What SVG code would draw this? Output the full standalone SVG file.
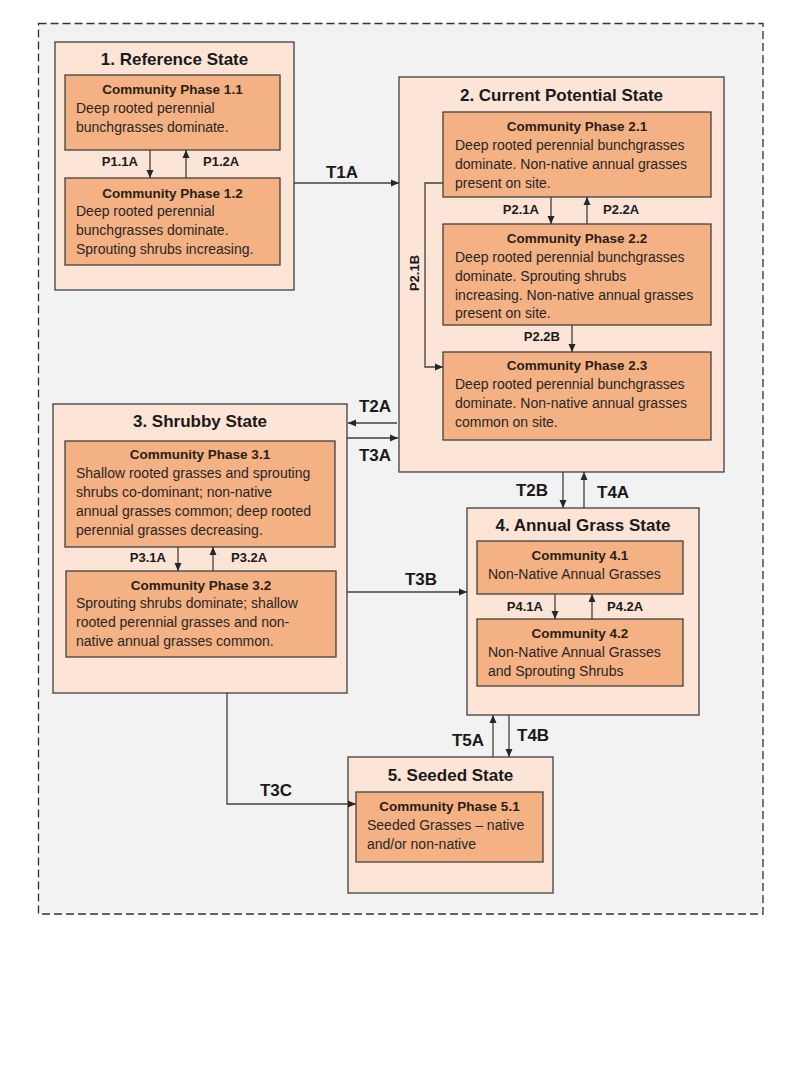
<svg xmlns="http://www.w3.org/2000/svg" width="800" height="1067" viewBox="0 0 800 1067">
<defs>
<marker id="ah" viewBox="0 0 8 8" refX="8" refY="4" markerWidth="8" markerHeight="8" markerUnits="userSpaceOnUse" orient="auto">
<path d="M0,0.5 L8,4 L0,7.5 Z" fill="#262626"/>
</marker>
</defs>
<style>
.state{fill:#fce4d6;stroke:#404040;stroke-width:1.3}
.phase{fill:#f4b183;stroke:#404040;stroke-width:1.3}
.st{font-family:"Liberation Sans",Arial,sans-serif;font-weight:bold;font-size:17px;fill:#1a1a1a;text-anchor:middle}
.pt{font-family:"Liberation Sans",Arial,sans-serif;font-weight:bold;font-size:13.5px;fill:#2a1e16;text-anchor:middle}
.bt{font-family:"Liberation Sans",Arial,sans-serif;font-size:14px;fill:#262626}
.lb{font-family:"Liberation Sans",Arial,sans-serif;font-weight:bold;font-size:13px;fill:#1a1a1a}
.tl{font-family:"Liberation Sans",Arial,sans-serif;font-weight:bold;font-size:17px;fill:#1a1a1a}
.cn{fill:none;stroke:#404040;stroke-width:1.3;marker-end:url(#ah)}
</style>
<rect x="0" y="0" width="800" height="1067" fill="#ffffff"/>
<rect x="38.5" y="23.5" width="724.5" height="890.5" fill="#f2f2f2" stroke="#333333" stroke-width="1.3" stroke-dasharray="8,4"/>

<g id="state1">
<rect class="state" x="55" y="42" width="239" height="248"/>
<text class="st" x="174.5" y="65">1. Reference State</text>
</g>
<g id="phase1-1">
<rect class="phase" x="65" y="75" width="215" height="75"/>
<text class="pt" x="172.5" y="94">Community Phase 1.1</text>
<text class="bt" x="76" y="113">Deep rooted perennial</text>
<text class="bt" x="76" y="132">bunchgrasses dominate.</text>
</g>
<g id="phase1-2">
<rect class="phase" x="65" y="178" width="215" height="87"/>
<text class="pt" x="172.5" y="198">Community Phase 1.2</text>
<text class="bt" x="76" y="216">Deep rooted perennial</text>
<text class="bt" x="76" y="235">bunchgrasses dominate.</text>
<text class="bt" x="76" y="254">Sprouting shrubs increasing.</text>
</g>

<g id="state2">
<rect class="state" x="399" y="77" width="325" height="395"/>
<text class="st" x="561.5" y="101">2. Current Potential State</text>
</g>
<g id="phase2-1">
<rect class="phase" x="443" y="112" width="268" height="85"/>
<text class="pt" x="577" y="131">Community Phase 2.1</text>
<text class="bt" x="455" y="150">Deep rooted perennial bunchgrasses</text>
<text class="bt" x="455" y="169">dominate. Non-native annual grasses</text>
<text class="bt" x="455" y="188">present on site.</text>
</g>
<g id="phase2-2">
<rect class="phase" x="443" y="224" width="268" height="101"/>
<text class="pt" x="577" y="243">Community Phase 2.2</text>
<text class="bt" x="455" y="262">Deep rooted perennial bunchgrasses</text>
<text class="bt" x="455" y="281">dominate. Sprouting shrubs</text>
<text class="bt" x="455" y="300">increasing. Non-native annual grasses</text>
<text class="bt" x="455" y="318">present on site.</text>
</g>
<g id="phase2-3">
<rect class="phase" x="443" y="352" width="268" height="88"/>
<text class="pt" x="577" y="370">Community Phase 2.3</text>
<text class="bt" x="455" y="389">Deep rooted perennial bunchgrasses</text>
<text class="bt" x="455" y="408">dominate. Non-native annual grasses</text>
<text class="bt" x="455" y="427">common on site.</text>
</g>

<g id="state3">
<rect class="state" x="53" y="404" width="294" height="289"/>
<text class="st" x="200" y="427">3. Shrubby State</text>
</g>
<g id="phase3-1">
<rect class="phase" x="65" y="441" width="270" height="106"/>
<text class="pt" x="200" y="459">Community Phase 3.1</text>
<text class="bt" x="76" y="478">Shallow rooted grasses and sprouting</text>
<text class="bt" x="76" y="497">shrubs co-dominant; non-native</text>
<text class="bt" x="76" y="516">annual grasses common; deep rooted</text>
<text class="bt" x="76" y="535">perennial grasses decreasing.</text>
</g>
<g id="phase3-2">
<rect class="phase" x="66" y="571" width="270" height="86"/>
<text class="pt" x="201" y="590">Community Phase 3.2</text>
<text class="bt" x="76" y="608">Sprouting shrubs dominate; shallow</text>
<text class="bt" x="76" y="627">rooted perennial grasses and non-</text>
<text class="bt" x="76" y="646">native annual grasses common.</text>
</g>

<g id="state4">
<rect class="state" x="467" y="508" width="232" height="207"/>
<text class="st" x="583" y="531">4. Annual Grass State</text>
</g>
<g id="community4-1">
<rect class="phase" x="477" y="541" width="206" height="53"/>
<text class="pt" x="580" y="560">Community 4.1</text>
<text class="bt" x="488" y="579">Non-Native Annual Grasses</text>
</g>
<g id="community4-2">
<rect class="phase" x="477" y="619" width="206" height="67"/>
<text class="pt" x="580" y="638">Community 4.2</text>
<text class="bt" x="488" y="657">Non-Native Annual Grasses</text>
<text class="bt" x="488" y="676">and Sprouting Shrubs</text>
</g>

<g id="state5">
<rect class="state" x="348" y="757" width="205" height="136"/>
<text class="st" x="450.5" y="781">5. Seeded State</text>
</g>
<g id="phase5-1">
<rect class="phase" x="356" y="792" width="187" height="70"/>
<text class="pt" x="449.5" y="811">Community Phase 5.1</text>
<text class="bt" x="367" y="830">Seeded Grasses – native</text>
<text class="bt" x="367" y="849">and/or non-native</text>
</g>

<g id="connectors">
<line class="cn" x1="150" y1="150" x2="150" y2="178"/>
<line class="cn" x1="186" y1="178" x2="186" y2="150"/>
<text class="lb" x="138" y="166" text-anchor="end">P1.1A</text>
<text class="lb" x="203" y="166">P1.2A</text>

<line class="cn" x1="294" y1="183" x2="399" y2="183"/>
<text class="tl" x="342" y="178" text-anchor="middle">T1A</text>

<line class="cn" x1="551" y1="197" x2="551" y2="224"/>
<line class="cn" x1="587" y1="224" x2="587" y2="197"/>
<text class="lb" x="539" y="214" text-anchor="end">P2.1A</text>
<text class="lb" x="603" y="214">P2.2A</text>

<line class="cn" x1="572" y1="325" x2="572" y2="352"/>
<text class="lb" x="560" y="341" text-anchor="end">P2.2B</text>

<polyline class="cn" points="443,183 425,183 425,367 443,367"/>
<text class="lb" transform="translate(419,273) rotate(-90)" text-anchor="middle">P2.1B</text>

<line class="cn" x1="397" y1="423" x2="348" y2="423"/>
<text class="tl" x="375" y="412" text-anchor="middle">T2A</text>
<line class="cn" x1="347" y1="438" x2="398" y2="438"/>
<text class="tl" x="375" y="461" text-anchor="middle">T3A</text>

<line class="cn" x1="178" y1="547" x2="178" y2="571"/>
<line class="cn" x1="213" y1="571" x2="213" y2="547"/>
<text class="lb" x="166" y="562" text-anchor="end">P3.1A</text>
<text class="lb" x="231" y="562">P3.2A</text>

<line class="cn" x1="347" y1="592" x2="467" y2="592"/>
<text class="tl" x="421" y="585" text-anchor="middle">T3B</text>

<line class="cn" x1="563" y1="472" x2="563" y2="508"/>
<line class="cn" x1="584" y1="508" x2="584" y2="472"/>
<text class="tl" x="548" y="496" text-anchor="end">T2B</text>
<text class="tl" x="597" y="498">T4A</text>

<line class="cn" x1="555" y1="594" x2="555" y2="619"/>
<line class="cn" x1="592" y1="619" x2="592" y2="594"/>
<text class="lb" x="543" y="611" text-anchor="end">P4.1A</text>
<text class="lb" x="607" y="611">P4.2A</text>

<line class="cn" x1="493" y1="757" x2="493" y2="715"/>
<line class="cn" x1="509" y1="715" x2="509" y2="757"/>
<text class="tl" x="484" y="746" text-anchor="end">T5A</text>
<text class="tl" x="517" y="741">T4B</text>

<polyline class="cn" points="227,693 227,804 356,804"/>
<text class="tl" x="276" y="796" text-anchor="middle">T3C</text>
</g>
</svg>
